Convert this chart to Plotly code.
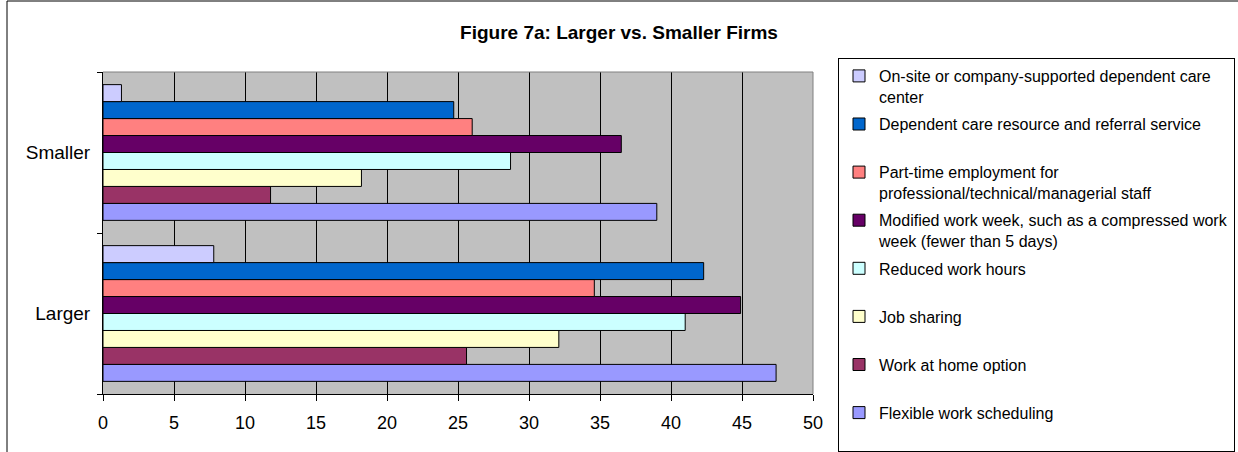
import plotly.graph_objects as go

categories = ["Larger", "Smaller"]

series_names = [
    "Flexible work scheduling",
    "Work at home option",
    "Job sharing",
    "Reduced work hours",
    "Modified work week, such as a compressed work<br>week (fewer than 5 days)",
    "Part-time employment for<br>professional/technical/managerial staff",
    "Dependent care resource and referral service",
    "On-site or company-supported dependent care<br>center",
]

flexible = [47.4, 39.0]
work_home = [25.6, 11.8]
job_sharing = [32.1, 18.2]
reduced = [41.0, 28.7]
modified = [44.9, 36.5]
part_time = [34.6, 26.0]
dep_referral = [42.3, 24.7]
onsite = [7.8, 1.3]

series_values = [flexible, work_home, job_sharing, reduced, modified,
                 part_time, dep_referral, onsite]
colors = ["#9999FF", "#993366", "#FFFFCC", "#CCFFFF", "#660066",
          "#FF8080", "#0066CC", "#CCCCFF"]

x_ticks = [0, 5, 10, 15, 20, 25, 30, 35, 40, 45, 50]

W, H = 1238, 452
L, R, T, B = 103, 813, 72, 394


def px_x(p):
    return (p - L) / (R - L)


def px_y(p):
    return (B - p) / (B - T)


fig = go.Figure()
n = len(series_names)
for i, (name, vals, col) in enumerate(zip(series_names, series_values, colors)):
    label = name if "<br>" in name else name + "<br> "
    fig.add_trace(go.Bar(
        y=categories, x=vals, orientation="h", name=label,
        marker=dict(color=col, line=dict(color="black", width=1)),
        legendgroup="g%d" % i, legendrank=1000 + (n - i),
    ))

fig.update_layout(
    width=W, height=H,
    margin=dict(l=L, r=W - R, t=T, b=H - B, pad=0, autoexpand=False),
    paper_bgcolor="white",
    plot_bgcolor="#C0C0C0",
    font=dict(family="Liberation Sans, Arial, sans-serif", color="black", size=18),
    barmode="group",
    bargap=0.157,
    bargroupgap=0,
    title=dict(text="<b>Figure 7a: Larger vs. Smaller Firms</b>",
               font=dict(size=19), x=619 / W, xanchor="center",
               xref="container", yref="container",
               y=1 - 32 / H, yanchor="middle"),
    showlegend=True,
    legend=dict(
        traceorder="grouped",
        xref="container", yref="container",
        x=1235 / W, xanchor="right",
        y=1 - 58 / H, yanchor="top",
        bordercolor="black", borderwidth=1, bgcolor="white",
        font=dict(size=16),
        valign="top",
        tracegroupgap=3.5,
        itemwidth=30,
        maxheight=470,
    ),
    xaxis=dict(
        range=[0, 50], tickvals=x_ticks, ticktext=[str(v) for v in x_ticks],
        showgrid=True, gridcolor="black", gridwidth=1,
        showline=True, linecolor="black", linewidth=1,
        ticks="outside", ticklen=6, tickcolor="black",
        zeroline=False, ticklabelstandoff=6,
        fixedrange=True, automargin=False,
    ),
    yaxis=dict(
        categoryorder="array", categoryarray=categories,
        showgrid=False, showline=True, linecolor="black", linewidth=1,
        ticks="outside", tickson="boundaries", ticklen=5, tickcolor="black",
        tickfont=dict(size=19), ticklabelstandoff=8,
        zeroline=False, fixedrange=True, automargin=False,
    ),
    shapes=[
        dict(type="line", xref="paper", yref="paper", x0=0, x1=1, y0=1, y1=1,
             line=dict(color="#808080", width=1), layer="above"),
        dict(type="line", xref="paper", yref="paper", x0=1, x1=1, y0=0, y1=1,
             line=dict(color="#808080", width=1), layer="above"),
        dict(type="line", xref="paper", yref="paper", x0=px_x(7), x1=px_x(1240),
             y0=px_y(1), y1=px_y(1), line=dict(color="black", width=1)),
        dict(type="line", xref="paper", yref="paper", x0=px_x(7), x1=px_x(7),
             y0=px_y(1), y1=px_y(460), line=dict(color="black", width=1)),
    ],
)

fig.write_html(
    "out.html",
    config={"displayModeBar": False},
    post_script="document.body.style.margin='0';document.body.style.overflow='hidden';",
)
